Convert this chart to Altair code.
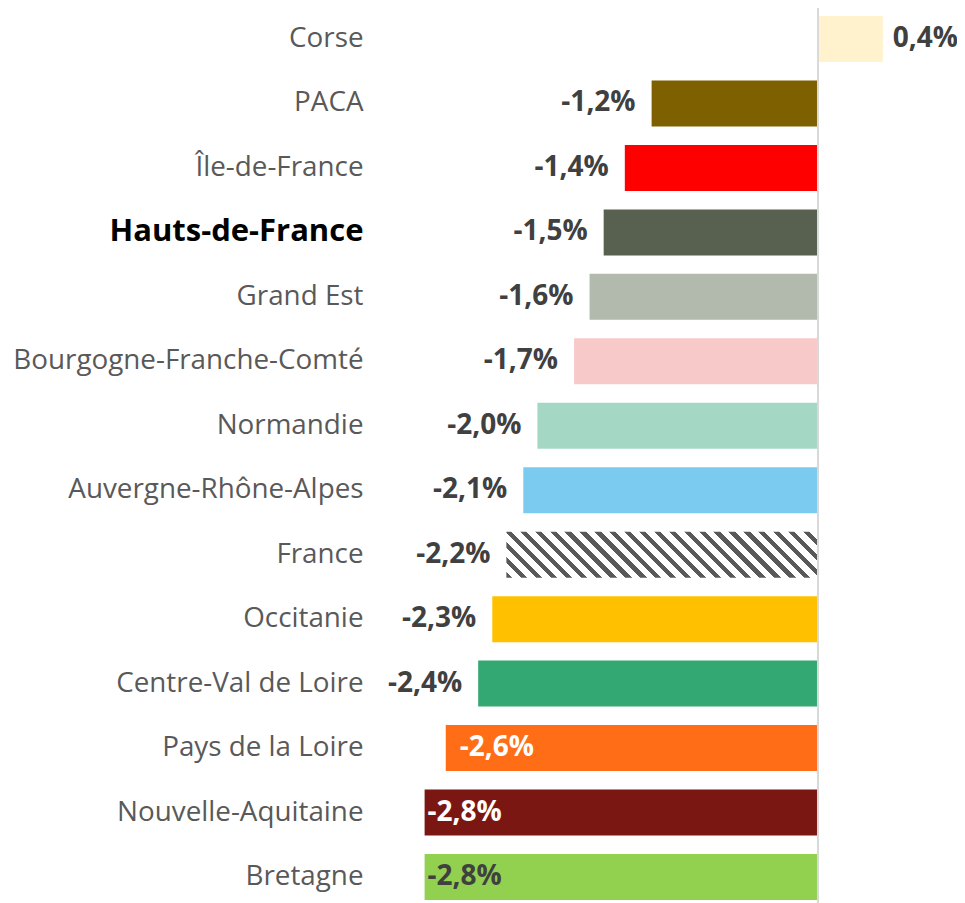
import altair as alt
import pandas as pd

regions = ["Corse", "PACA\u00a0", "Île-de-France", "Hauts-de-France", "Grand Est",
           "Bourgogne-Franche-Comté", "Normandie", "Auvergne-Rhône-Alpes", "France\u00a0",
           "Occitanie", "Centre-Val de Loire", "Pays de la Loire", "Nouvelle-Aquitaine", "Bretagne"]
values = [0.46, -1.18, -1.37, -1.52, -1.62, -1.73, -1.99, -2.09, -2.21, -2.31, -2.41, -2.64, -2.79, -2.79]
labels = ["0,4%", "-1,2%", "-1,4%", "-1,5%", "-1,6%", "-1,7%", "-2,0%", "-2,1%", "-2,2%",
          "-2,3%", "-2,4%", "-2,6%", "-2,8%", "-2,8%"]
colors = ["#FFF2CC", "#7F6000", "#FF0000", "#586150", "#B2B9AD", "#F8C9C9", "#A5D8C4",
          "#7BCBF0", "#FFFFFF", "#FFC000", "#34A872", "#FF6D17", "#7B1712", "#92D050"]
# label placement group: out = outside end, inw = inside white, ind = inside dark
placement = ["out"] * 11 + ["inw", "inw", "ind"]
inside_dx = [0] * 11 + [14, 3, 3]

df = pd.DataFrame({"region": regions, "value": values, "label": labels,
                   "color": colors, "place": placement, "idx": inside_dx})

x_min, x_max = -3.156, 0.986
plot_w = 584
plot_h = 900
px_per_unit = plot_w / (x_max - x_min)

FONT = "Open Sans"
HDF = "datum.value == 'Hauts-de-France'"
xs = alt.Scale(domain=[x_min, x_max], nice=False, zero=False)
ys = alt.Scale(domain=regions, paddingInner=0.286, paddingOuter=0.124)

y_enc = alt.Y("region:N", sort=regions, scale=ys,
              axis=alt.Axis(title=None, domain=False, ticks=False, grid=False,
                            labelFont=FONT,
                            labelFontSize={"condition": {"test": HDF, "value": 31}, "value": 27.8},
                            labelFontWeight={"condition": {"test": HDF, "value": "bold"}, "value": "normal"},
                            labelColor={"condition": {"test": HDF, "value": "#000000"}, "value": "#595959"},
                            labelPadding=10, labelLimit=0))
x_enc = alt.X("value:Q", scale=xs, axis=None)

base = alt.Chart(df)

bars = base.transform_filter("datum.region != 'France\u00a0'").mark_bar().encode(
    x=x_enc, y=y_enc,
    color=alt.Color("color:N", scale=None, legend=None))

# hatch for France via striped linear gradient
fr_val = values[regions.index("France\u00a0")]
W = abs(fr_val) * px_per_unit
H = (plot_h / (len(regions) - 0.286 + 2 * 0.124)) * (1 - 0.286)
r = H / W
k = (1 + r) / (1 + r * r)
span = W + H
period = 15.5
n = int(span / period) + 1
dark_frac = 0.42
stops = []
for i in range(n):
    a = i / n
    b = (i + dark_frac) / n
    c = (i + 1) / n
    stops.append({"offset": min(a, 1), "color": "#595959"})
    stops.append({"offset": min(b, 1), "color": "#595959"})
    stops.append({"offset": min(b, 1), "color": "#FFFFFF"})
    stops.append({"offset": min(c, 1), "color": "#FFFFFF"})
grad = alt.Gradient(gradient="linear", x1=0, y1=1, x2=k, y2=1 - k * r, stops=stops)

france = base.transform_filter("datum.region == 'France\u00a0'").mark_bar(fill=grad).encode(
    x=x_enc, y=y_enc)

zero = alt.Chart(pd.DataFrame({"z": [0]})).mark_rule(color="#D9D9D9", strokeWidth=2).encode(
    x=alt.X("z:Q", scale=xs, axis=None))

lab_style = dict(font=FONT, fontSize=28, fontWeight="bold", baseline="middle")

lab_neg = base.transform_filter("datum.place == 'out' && datum.value < 0").mark_text(
    align="right", dx=-16, color="#404040", **lab_style).encode(x=x_enc, y=y_enc, text="label:N")
lab_pos = base.transform_filter("datum.place == 'out' && datum.value > 0").mark_text(
    align="left", dx=10, color="#404040", **lab_style).encode(x=x_enc, y=y_enc, text="label:N")
lab_in_w1 = base.transform_filter("datum.place == 'inw' && datum.idx > 10").mark_text(
    align="left", dx=14, color="#FFFFFF", **lab_style).encode(x=x_enc, y=y_enc, text="label:N")
lab_in_w2 = base.transform_filter("datum.place == 'inw' && datum.idx < 10").mark_text(
    align="left", dx=3, color="#FFFFFF", **lab_style).encode(x=x_enc, y=y_enc, text="label:N")
lab_in_d = base.transform_filter("datum.place == 'ind'").mark_text(
    align="left", dx=3, color="#404040", **lab_style).encode(x=x_enc, y=y_enc, text="label:N")

chart = alt.layer(bars, france, zero, lab_neg, lab_pos, lab_in_w1, lab_in_w2, lab_in_d).properties(
    width=plot_w, height=plot_h,
    autosize=alt.AutoSizeParams(type="none"),
    padding={"left": 365, "top": 0, "right": 0, "bottom": 0},
).configure(background="#FFFFFF").configure_view(stroke=None)

chart.save("out.html", embed_options={"renderer": "svg", "actions": False})
